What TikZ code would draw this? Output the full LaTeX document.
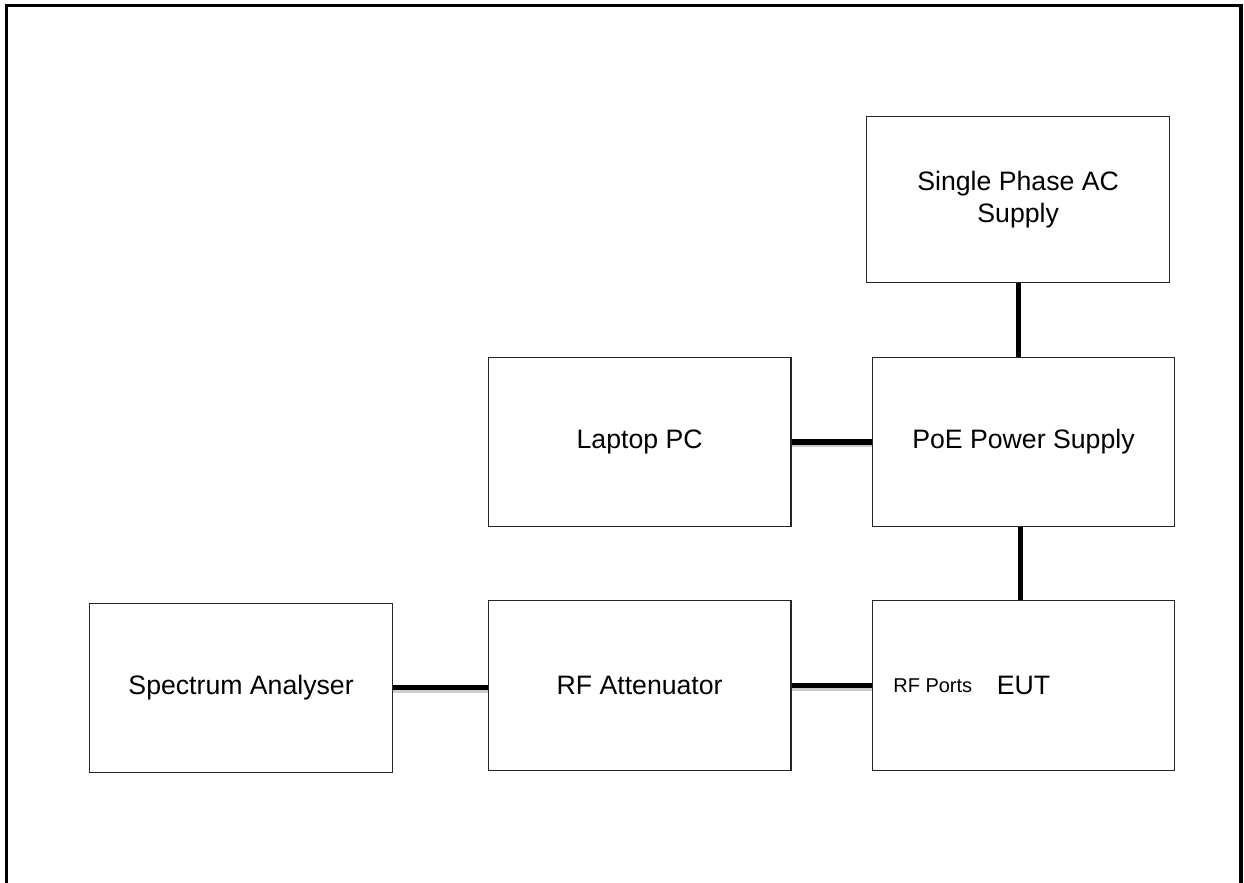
\documentclass[tikz,border=0pt]{standalone}
\usepackage{fontspec}
\setmainfont{Liberation Sans}
\usepackage{tikz}
\usetikzlibrary{positioning, calc}

\begin{document}
\begin{tikzpicture}[x=0.75pt, y=-0.75pt, semithick, auto,
  block/.style={draw=black!85, line width=0.9pt, fill=none, shape=rectangle, minimum width=227pt, minimum height=127pt, align=center, font=\fontsize{20}{24}\selectfont},
  wire/.style={-, line width=3.8pt, line cap=butt},
  wireshadow/.style={-, line width=3.5pt, draw=black!20},
  frame/.style={line width=2.7pt, line cap=rect}]
  \useasboundingbox (0,0) rectangle (1244,882);
  % outer frame, open at the bottom
  \draw[frame] (6.5,882) |- (1241,5.5) -- (1241,882);

  \node[block] (poe) at (1023.5,442) {PoE Power Supply};
  \node[block, minimum height=124pt, above=55.5pt of poe, xshift=-4pt] (ac) {Single Phase AC\\Supply};
  \node[block, below=54.75pt of poe] (eut) {EUT};
  \node[block, left=60pt of poe] (laptop) {Laptop PC};
  \node[block, left=60pt of eut] (rfatt) {RF Attenuator};
  \node[block, left=71pt of rfatt, yshift=-1.8pt] (spec) {Spectrum Analyser};
  \node[inner sep=0pt, right=16pt of eut.west, font=\fontsize{15}{18}\selectfont] (ports) {RF Ports};

  \path[wireshadow]
   ([yshift=-2.2pt]laptop.east) edge ([yshift=-2.2pt]laptop.east -| poe.west)
   ([yshift=-2.2pt]rfatt.east) edge ([yshift=-2.2pt]rfatt.east -| eut.west)
   ([yshift=-2.2pt]spec.east) edge ([yshift=-2.2pt]spec.east -| rfatt.west);
  \path[wire]
   (ac.south) edge (ac.south |- poe.north)
   ([xshift=-2.4pt]poe.south) edge ([xshift=-2.4pt]poe.south |- eut.north)
   (laptop.east) edge (laptop.east -| poe.west)
   (rfatt.east) edge (rfatt.east -| eut.west)
   (spec.east) edge (spec.east -| rfatt.west);
\end{tikzpicture}
\end{document}
